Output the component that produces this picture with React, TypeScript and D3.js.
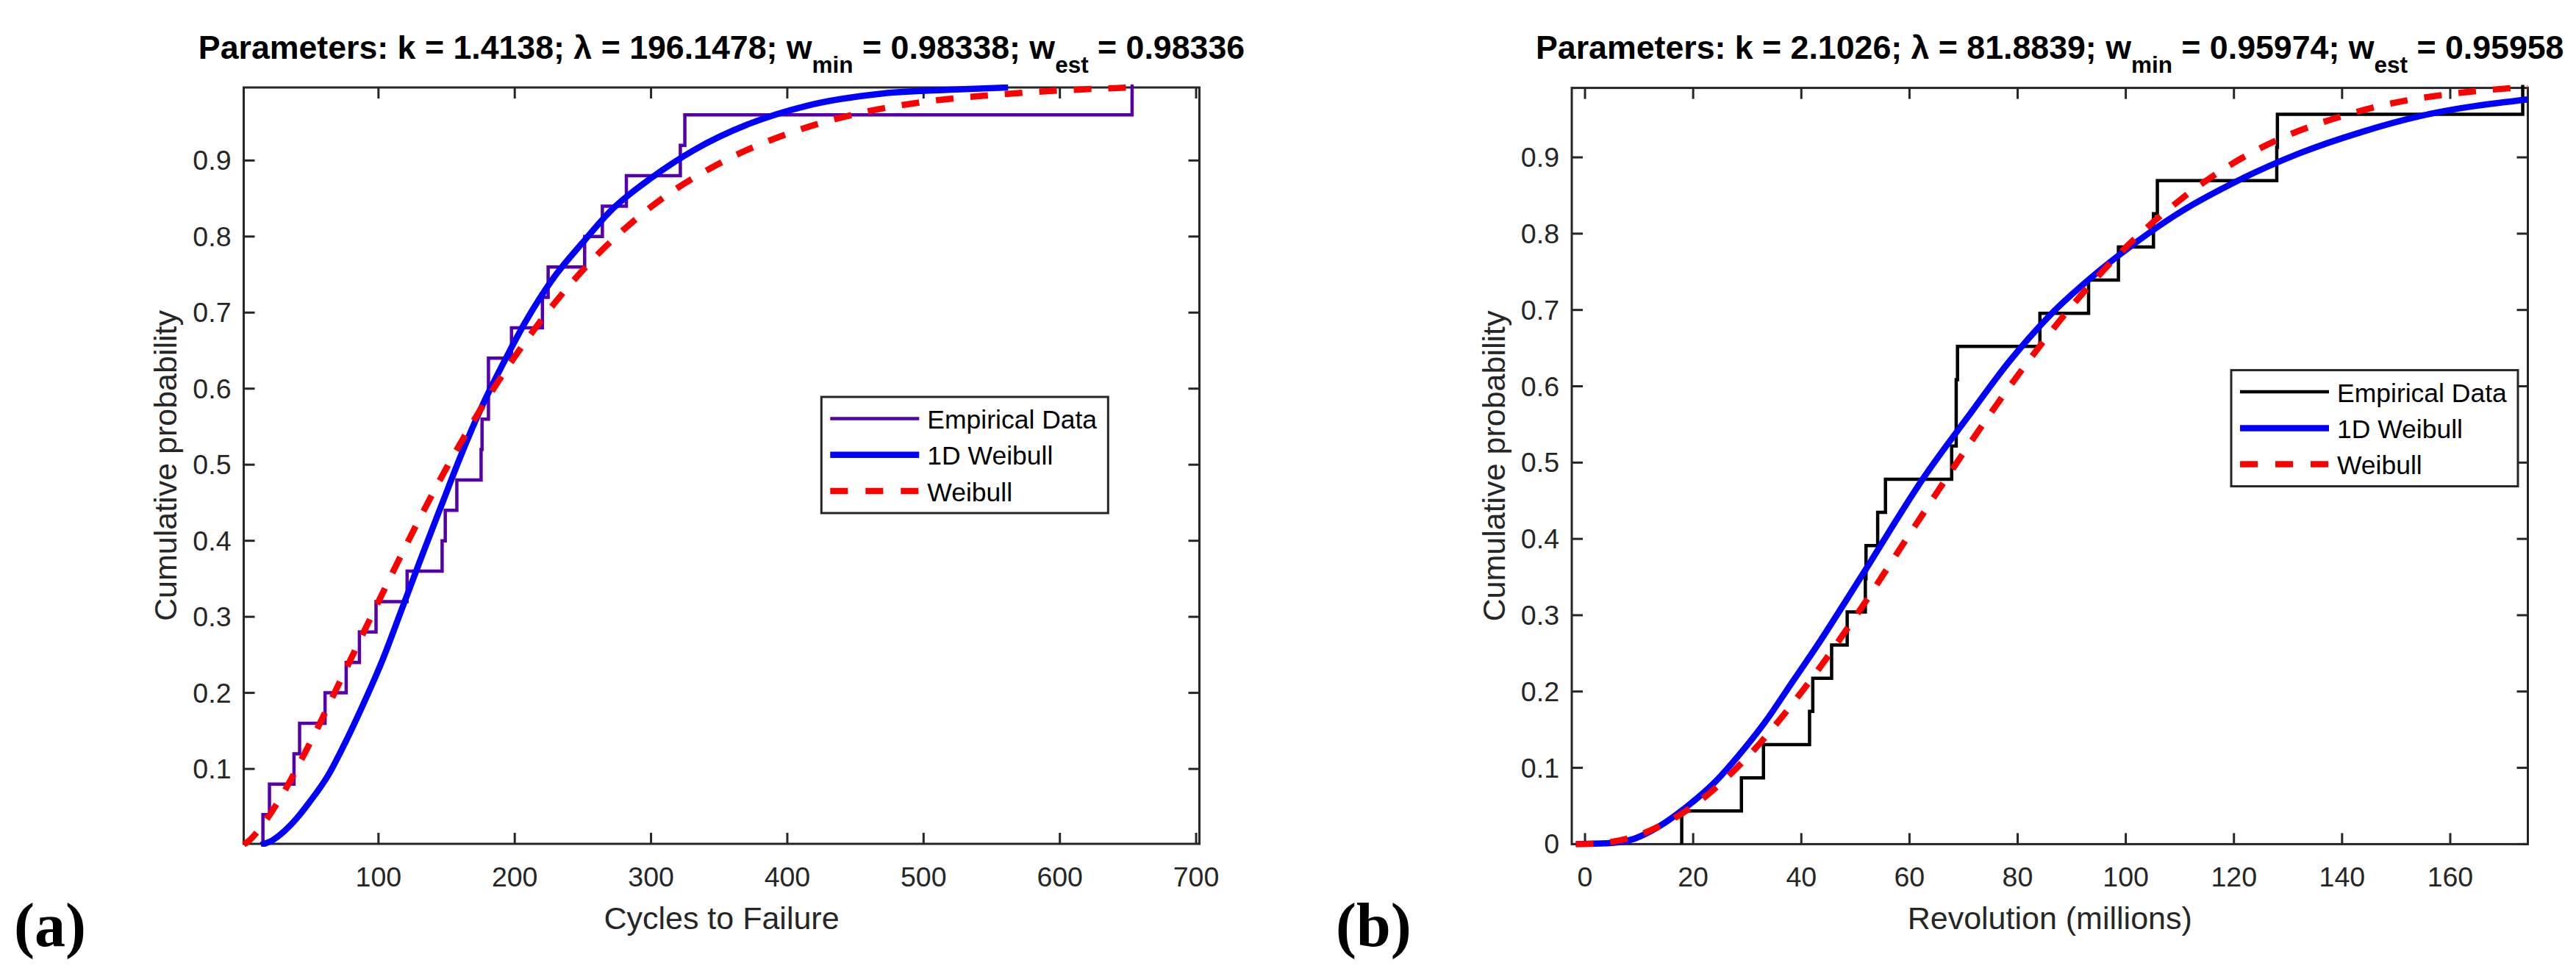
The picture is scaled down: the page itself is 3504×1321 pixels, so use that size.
import React from 'react';
import * as d3 from 'd3';

// ---------------- Panel (a) data ----------------
const cyclesToFailure = [15.2, 20.0, 38.0, 42.1, 60.8, 76.3, 86.0, 98.2, 121.0, 146.7, 149.0, 157.5, 175.3, 176.0, 180.7, 180.7, 197.6, 220.3, 224.5, 251.3, 264.3, 281.9, 321.5, 324.8, 653.0];
const cyclesWeibullX = [1.1, 5, 10, 25, 50, 75, 100, 125, 150, 175, 200, 250, 300, 350, 400, 450, 500, 550, 600, 653];
const cyclesWeibullF = [0.0007, 0.0056, 0.015, 0.053, 0.135, 0.227, 0.320, 0.411, 0.496, 0.573, 0.642, 0.756, 0.839, 0.896, 0.935, 0.961, 0.977, 0.986, 0.992, 0.996];
const cycles1DX = [13.7, 22, 30.8, 40, 48.8, 63.2, 75.7, 88.3, 102.7, 117.1, 131.4, 147.6, 160, 176, 193.5, 207.9, 228.6, 249.3, 269.9, 300.9, 331.8, 373.2, 414.5, 469.8, 520, 562];
const cycles1DF = [0, 0.006, 0.018, 0.035, 0.055, 0.092, 0.135, 0.183, 0.242, 0.310, 0.378, 0.453, 0.510, 0.577, 0.640, 0.688, 0.746, 0.791, 0.833, 0.878, 0.914, 0.949, 0.972, 0.988, 0.993, 0.996];
const cyclesXTicks = [100, 200, 300, 400, 500, 600, 700];
const cyclesYTicks = [0.1, 0.2, 0.3, 0.4, 0.5, 0.6, 0.7, 0.8, 0.9];
const cyclesParams = ['1.4138', '196.1478', '0.98338', '0.98336'];

// ---------------- Panel (b) data ----------------
const revolutions = [17.88, 28.92, 33.00, 41.52, 42.12, 45.60, 48.48, 51.84, 51.96, 54.12, 55.56, 67.80, 68.64, 68.64, 68.88, 84.12, 93.12, 98.64, 105.12, 105.84, 127.92, 128.04, 173.40];
const revWeibullX = [-1.7, 0, 5, 10, 15, 20, 30, 40, 50, 60, 70, 80, 90, 100, 110, 120, 130, 140, 150, 160, 170, 174.35];
const revWeibullF = [0, 0, 0.003, 0.012, 0.028, 0.050, 0.114, 0.199, 0.298, 0.406, 0.513, 0.614, 0.705, 0.782, 0.844, 0.893, 0.929, 0.954, 0.972, 0.983, 0.990, 0.992];
const rev1DX = [-1.7, 4, 9.1, 13.9, 18.8, 23.7, 28.5, 33.4, 38.2, 43.1, 47.9, 52.8, 57.6, 62.5, 70.7, 78.4, 86.1, 93.7, 101.4, 109.1, 120.6, 132, 143.5, 155, 174.35];
const rev1DF = [0, 0.001, 0.007, 0.024, 0.049, 0.079, 0.117, 0.161, 0.211, 0.262, 0.315, 0.370, 0.425, 0.479, 0.559, 0.632, 0.694, 0.743, 0.786, 0.824, 0.869, 0.905, 0.933, 0.955, 0.976];
const revXTicks = [0, 20, 40, 60, 80, 100, 120, 140, 160];
const revYTicks = [0, 0.1, 0.2, 0.3, 0.4, 0.5, 0.6, 0.7, 0.8, 0.9];
const revParams = ['2.1026', '81.8839', '0.95974', '0.95958'];

const legendLabels = ['Empirical Data', '1D Weibull', 'Weibull'];

const SANS = "'Liberation Sans', Arial, Helvetica, sans-serif";
const SERIF = "'Liberation Serif', 'Times New Roman', serif";
const AXIS = '#262626';
const BLUE = '#0000ff';
const RED = '#ff0000';

type PanelProps = {
  id: string;
  left: number; right: number; top: number; bottom: number;
  xDomain: [number, number]; yDomain: [number, number];
  xTicks: number[]; yTicks: number[];
  emp: number[]; empColor: string;
  wX: number[]; wF: number[];
  dX: number[]; dF: number[];
  params: string[];
  xLabel: string;
  legendX: number; legendY: number;
  panelLabel: string; panelLabelX: number;
  yLabelX: number;
};

function Panel(p: PanelProps) {
  const x = d3.scaleLinear().domain(p.xDomain).range([p.left, p.right]);
  const y = d3.scaleLinear().domain(p.yDomain).range([p.bottom, p.top]);
  const n = p.emp.length;
  const empPts: [number, number][] = [[p.emp[0], 0], ...p.emp.map((v, i) => [v, (i + 1) / n] as [number, number])];
  const stair = d3.line<[number, number]>().x(d => x(d[0])).y(d => y(d[1])).curve(d3.curveStepAfter);
  const smooth = d3.line<[number, number]>().x(d => x(d[0])).y(d => y(d[1])).curve(d3.curveMonotoneX);
  const wPts = p.wX.map((v, i) => [v, p.wF[i]] as [number, number]);
  const dPts = p.dX.map((v, i) => [v, p.dF[i]] as [number, number]);
  const cx = (p.left + p.right) / 2;
  const cy = (p.top + p.bottom) / 2;
  const tick = 15;
  const m = 4;
  const lw = 390, lh = 158;
  const lx = p.legendX, ly = p.legendY;
  const rowY = [29.5, 78.8, 128.0];
  return (
    <g>
      <defs>
        <clipPath id={p.id}>
          <rect x={p.left - m} y={p.top - m} width={p.right - p.left + 2 * m} height={p.bottom - p.top + 2 * m} />
        </clipPath>
      </defs>
      {/* title */}
      <text x={cx} y={80} textAnchor="middle" fontFamily={SANS} fontWeight="bold" fontSize={44.7} fill="#000" style={{ whiteSpace: 'pre' }}>
        <tspan>{`Parameters: k = ${p.params[0]}; \u03bb = ${p.params[1]}; w`}</tspan>
        <tspan fontSize={31.5} dy={19}>min</tspan>
        <tspan dy={-19}>{` = ${p.params[2]}; w`}</tspan>
        <tspan fontSize={31.5} dy={19}>est</tspan>
        <tspan dy={-19}>{` = ${p.params[3]}`}</tspan>
      </text>
      {/* axes box */}
      <rect x={p.left} y={p.top} width={p.right - p.left} height={p.bottom - p.top} fill="none" stroke={AXIS} strokeWidth={3} />
      {p.xTicks.map(t => (
        <g key={'xt' + t}>
          <line x1={x(t)} x2={x(t)} y1={p.bottom} y2={p.bottom - tick} stroke={AXIS} strokeWidth={3} />
          <line x1={x(t)} x2={x(t)} y1={p.top} y2={p.top + tick} stroke={AXIS} strokeWidth={3} />
          <text x={x(t)} y={1206} textAnchor="middle" fontFamily={SANS} fontSize={37.5} fill={AXIS}>{String(t)}</text>
        </g>
      ))}
      {p.yTicks.map(t => (
        <g key={'yt' + t}>
          <line x1={p.left} x2={p.left + tick} y1={y(t)} y2={y(t)} stroke={AXIS} strokeWidth={3} />
          <line x1={p.right} x2={p.right - tick} y1={y(t)} y2={y(t)} stroke={AXIS} strokeWidth={3} />
          <text x={p.left - 17} y={y(t) + 13} textAnchor="end" fontFamily={SANS} fontSize={37.5} fill={AXIS}>{String(t)}</text>
        </g>
      ))}
      {/* axis labels */}
      <text x={cx} y={1263.5} textAnchor="middle" fontFamily={SANS} fontSize={43} fill={AXIS}>{p.xLabel}</text>
      <text transform={`translate(${p.yLabelX},${cy}) rotate(-90)`} textAnchor="middle" fontFamily={SANS} fontSize={43} fill={AXIS}>Cumulative probability</text>
      {/* data */}
      <g clipPath={`url(#${p.id})`}>
        <path d={stair(empPts) || ''} fill="none" stroke={p.empColor} strokeWidth={4.5} />
        <path d={smooth(dPts) || ''} fill="none" stroke={BLUE} strokeWidth={8.5} />
        <path d={smooth(wPts) || ''} fill="none" stroke={RED} strokeWidth={8.5} strokeDasharray="24,23" />
      </g>
      {/* legend */}
      <rect x={lx} y={ly} width={lw} height={lh} fill="#fff" stroke={AXIS} strokeWidth={3} />
      <line x1={lx + 12} x2={lx + 133} y1={ly + rowY[0]} y2={ly + rowY[0]} stroke={p.empColor} strokeWidth={4.5} />
      <line x1={lx + 12} x2={lx + 133} y1={ly + rowY[1]} y2={ly + rowY[1]} stroke={BLUE} strokeWidth={8.5} />
      <line x1={lx + 12} x2={lx + 133} y1={ly + rowY[2]} y2={ly + rowY[2]} stroke={RED} strokeWidth={8.5} strokeDasharray="24,24" />
      {legendLabels.map((l, i) => (
        <text key={l} x={lx + 144} y={ly + rowY[i] + 13.5} fontFamily={SANS} fontSize={35.5} fill="#000">{l}</text>
      ))}
      {/* panel label */}
      <text x={p.panelLabelX} y={1287} fontFamily={SERIF} fontWeight="bold" fontSize={84} fill="#000">{p.panelLabel}</text>
    </g>
  );
}

export default function App() {
  return (
    <svg width={3504} height={1321} viewBox="0 0 3504 1321" style={{ position: 'absolute', left: 0, top: 0, background: '#fff' }}>
      <rect x={0} y={0} width={3504} height={1321} fill="#fff" />
      <Panel
        id="clipA" left={331.5} right={1631.5} top={119} bottom={1148}
        xDomain={[1.1, 702.4]} yDomain={[0.0015, 0.996]}
        xTicks={cyclesXTicks} yTicks={cyclesYTicks}
        emp={cyclesToFailure} empColor="#5500aa"
        wX={cyclesWeibullX} wF={cyclesWeibullF}
        dX={cycles1DX} dF={cycles1DF}
        params={cyclesParams} xLabel="Cycles to Failure"
        legendX={1117.3} legendY={540}
        panelLabel="(a)" panelLabelX={19} yLabelX={240}
      />
      <Panel
        id="clipB" left={2138} right={3438.5} top={119.6} bottom={1148.4}
        xDomain={[-2.45, 174.35]} yDomain={[0, 0.991]}
        xTicks={revXTicks} yTicks={revYTicks}
        emp={revolutions} empColor="#000000"
        wX={revWeibullX} wF={revWeibullF}
        dX={rev1DX} dF={rev1DF}
        params={revParams} xLabel="Revolution (millions)"
        legendX={3035} legendY={503.6}
        panelLabel="(b)" panelLabelX={1817} yLabelX={2046.5}
      />
    </svg>
  );
}
